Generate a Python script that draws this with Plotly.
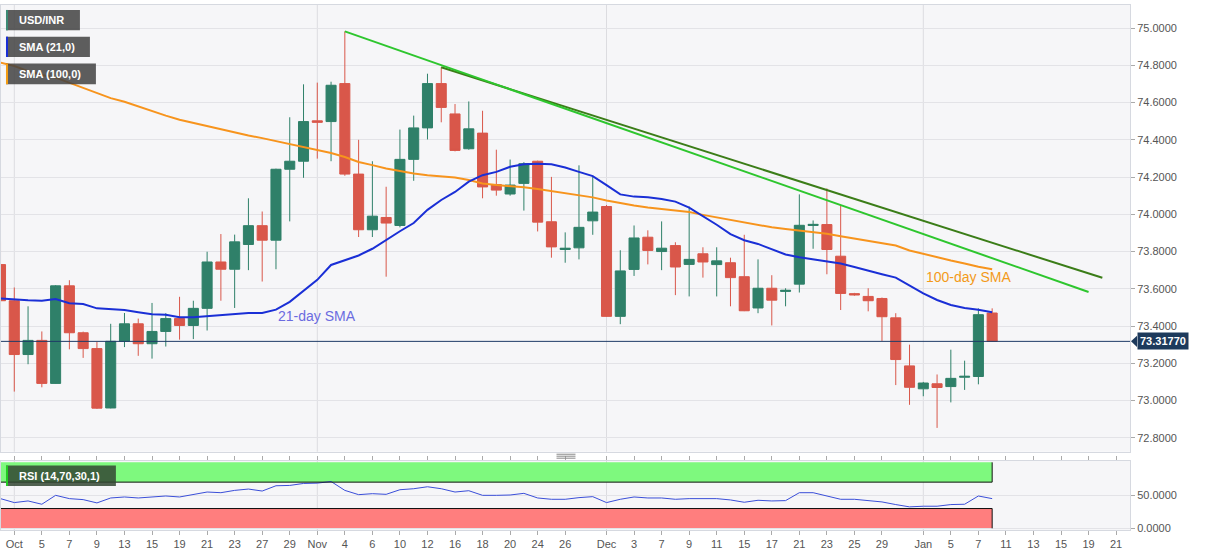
import plotly.graph_objects as go
import pandas as pd

# ---------------- data ----------------
calendar_start = "2020-09-30"
calendar_end = "2021-01-22"   # axis extends into future trading days

open_ = [73.730, 73.536, 73.247, 73.323, 73.092, 73.616, 73.364, 73.279, 72.960, 73.318,
         73.412, 73.305, 73.371, 73.440, 73.403, 73.495, 73.744, 73.705, 73.838, 73.939,
         73.861, 74.242, 74.285, 74.502, 74.498, 74.702, 74.216, 73.917, 73.983, 73.940,
         74.295, 74.464, 74.702, 74.539, 74.352, 74.436, 74.160, 74.109, 74.166, 74.285,
         73.960, 73.811, 73.820, 73.965, 74.042, 73.452, 73.704, 73.877, 73.800, 73.832,
         73.731, 73.788, 73.730, 73.740, 73.665, 73.497, 73.603, 73.586, 73.625, 73.940,
         73.945, 73.775, 73.574, 73.559, 73.548, 73.444, 73.186, 73.063, 73.090, 73.075,
         73.125, 73.129, 73.470]
high = [73.855, 73.607, 73.506, 73.371, 73.620, 73.646, 73.370, 73.314, 73.412, 73.470,
        73.440, 73.524, 73.469, 73.557, 73.536, 73.799, 73.894, 73.891, 74.086, 74.015,
        74.245, 74.521, 74.698, 74.707, 74.712, 74.982, 74.400, 74.285, 74.148, 74.455,
        74.530, 74.755, 74.790, 74.592, 74.606, 74.556, 74.347, 74.294, 74.280, 74.288,
        74.201, 73.903, 74.263, 74.200, 74.050, 73.807, 73.940, 73.914, 73.962, 73.850,
        74.042, 73.823, 73.823, 73.767, 73.890, 73.758, 73.673, 73.603, 74.107, 73.967,
        74.139, 74.045, 73.578, 73.603, 73.553, 73.469, 73.300, 73.100, 73.140, 73.273,
        73.214, 73.495, 73.495]
low = [73.520, 73.048, 73.195, 73.071, 73.090, 73.275, 73.229, 72.955, 72.958, 73.287,
       73.240, 73.225, 73.290, 73.327, 73.330, 73.376, 73.536, 73.497, 73.700, 73.639,
       73.705, 73.962, 74.196, 74.299, 74.285, 74.207, 73.878, 73.878, 73.665, 73.930,
       74.180, 74.402, 74.494, 74.338, 74.347, 74.086, 74.100, 74.100, 74.020, 73.908,
       73.767, 73.740, 73.758, 73.890, 73.450, 73.410, 73.669, 73.731, 73.700, 73.566,
       73.559, 73.660, 73.559, 73.506, 73.480, 73.469, 73.403, 73.506, 73.580, 73.815,
       73.678, 73.486, 73.563, 73.479, 73.320, 73.083, 72.977, 73.023, 72.853, 72.990,
       73.057, 73.087, 73.315]
close = [73.536, 73.247, 73.323, 73.092, 73.616, 73.364, 73.279, 72.959, 73.318, 73.412,
         73.305, 73.371, 73.440, 73.403, 73.495, 73.744, 73.705, 73.852, 73.939, 73.861,
         74.242, 74.285, 74.498, 74.494, 74.693, 74.216, 73.917, 73.990, 73.953, 74.295,
         74.464, 74.702, 74.574, 74.343, 74.459, 74.147, 74.130, 74.157, 74.272, 73.958,
         73.825, 73.818, 73.930, 74.012, 73.452, 73.696, 73.873, 73.806, 73.818, 73.717,
         73.758, 73.744, 73.750, 73.660, 73.482, 73.603, 73.539, 73.592, 73.941, 73.946,
         73.811, 73.575, 73.567, 73.536, 73.450, 73.220, 73.071, 73.094, 73.070, 73.119,
         73.130, 73.461, 73.3177]

sma21 = [73.548, 73.542, 73.538, 73.536, 73.545, 73.522, 73.518, 73.495, 73.490, 73.486,
         73.474, 73.463, 73.460, 73.447, 73.447, 73.452, 73.460, 73.465, 73.470, 73.470,
         73.488, 73.530, 73.589, 73.648, 73.728, 73.754, 73.779, 73.815, 73.864, 73.909,
         73.953, 74.024, 74.077, 74.120, 74.175, 74.210, 74.228, 74.255, 74.269, 74.272,
         74.269, 74.251, 74.228, 74.205, 74.157, 74.107, 74.095, 74.091, 74.082, 74.068,
         74.036, 73.992, 73.944, 73.894, 73.861, 73.841, 73.811, 73.784, 73.770, 73.758,
         73.749, 73.736, 73.717, 73.696, 73.678, 73.660, 73.616, 73.575, 73.540, 73.513,
         73.497, 73.488, 73.474]
sma100 = [74.814, 74.796, 74.769, 74.748, 74.734, 74.707, 74.680, 74.649, 74.624, 74.604,
          74.579, 74.553, 74.530, 74.508, 74.491, 74.473, 74.455, 74.437, 74.423, 74.409,
          74.393, 74.379, 74.361, 74.347, 74.329, 74.308, 74.281, 74.264, 74.246, 74.233,
          74.219, 74.210, 74.205, 74.198, 74.184, 74.166, 74.157, 74.153, 74.145, 74.136,
          74.125, 74.116, 74.104, 74.091, 74.074, 74.059, 74.047, 74.036, 74.029, 74.020,
          74.012, 73.997, 73.983, 73.971, 73.958, 73.944, 73.930, 73.921, 73.912, 73.905,
          73.896, 73.882, 73.870, 73.855, 73.847, 73.832, 73.806, 73.788, 73.767, 73.752,
          73.736, 73.718, 73.705]
rsi = [45.0, 39.0, 41.5, 36.5, 50.0, 45.0, 43.5, 38.5, 46.0, 47.5,
       46.0, 47.5, 49.0, 47.5, 51.0, 55.0, 54.0, 57.5, 59.5, 56.5,
       64.5, 65.0, 68.0, 68.5, 71.0, 57.5, 51.0, 52.5, 51.5, 58.5,
       60.0, 63.0, 60.0, 55.0, 57.0, 50.0, 50.0, 50.5, 53.0, 46.0,
       44.0, 44.0, 46.5, 48.0, 39.0, 44.0, 47.5, 46.0, 46.0, 44.0,
       45.0, 45.0, 45.0, 43.0, 39.5, 42.5, 41.5, 42.0, 54.0, 54.0,
       48.5, 44.0, 44.0, 42.5, 40.0, 36.0, 32.5, 33.5, 33.5, 36.0,
       36.5, 49.0, 45.0]

tick_dates = ["2020-10-01", "2020-10-05", "2020-10-07", "2020-10-09", "2020-10-13", "2020-10-15",
              "2020-10-19", "2020-10-21", "2020-10-23", "2020-10-27", "2020-10-29", "2020-11-02",
              "2020-11-04", "2020-11-06", "2020-11-10", "2020-11-12", "2020-11-16", "2020-11-18",
              "2020-11-20", "2020-11-24", "2020-11-26", "2020-12-01", "2020-12-03", "2020-12-07",
              "2020-12-09", "2020-12-11", "2020-12-15", "2020-12-17", "2020-12-21", "2020-12-23",
              "2020-12-25", "2020-12-29", "2021-01-01", "2021-01-05", "2021-01-07", "2021-01-11",
              "2021-01-13", "2021-01-15", "2021-01-19", "2021-01-21"]
tick_labels = ["Oct", "5", "7", "9", "13", "15", "19", "21", "23", "27", "29", "Nov",
               "4", "6", "10", "12", "16", "18", "20", "24", "26", "Dec", "3", "7",
               "9", "11", "15", "17", "21", "23", "25", "29", "Jan", "5", "7", "11",
               "13", "15", "19", "21"]
month_starts = ["2020-10-01", "2020-11-02", "2020-12-01", "2021-01-01"]

# trend lines (anchor dates and values)
trend1_dates = ["2020-11-04", "2021-01-19"]
trend1_vals = [74.982, 73.583]
trend2_dates = ["2020-11-13", "2021-01-20"]
trend2_vals = [74.790, 73.659]

price_ticks = [72.8, 73.0, 73.2, 73.4, 73.6, 73.8, 74.0, 74.2, 74.4, 74.6, 74.8, 75.0]
rsi_ticks = [0, 50]
rsi_upper, rsi_lower = 70, 30

# ---------------- helpers ----------------
cal = pd.bdate_range(calendar_start, calendar_end)
pos = {d.strftime("%Y-%m-%d"): i for i, d in enumerate(cal)}
n = len(close)
xi = list(range(n))

UP = "#2f8069"
DOWN = "#d9574a"
FONT = "Liberation Sans, Arial, sans-serif"

W, H = 1207, 555
ML, MR, MT, MB = 0, 77, 0, 25
PW, PH = W - ML - MR, H - MT - MB


def px(xp):
    return xp / PW


def py(yp):
    return (PH - yp) / PH


fig = go.Figure()

fig.add_trace(go.Candlestick(
    x=xi, open=open_, high=high, low=low, close=close,
    increasing=dict(line=dict(color=UP, width=1), fillcolor=UP),
    decreasing=dict(line=dict(color=DOWN, width=1), fillcolor=DOWN),
    whiskerwidth=0, showlegend=False, hoverinfo="skip", xaxis="x", yaxis="y"))

fig.add_trace(go.Scatter(x=xi, y=sma100, mode="lines", line=dict(color="#f7941d", width=2),
                         showlegend=False, hoverinfo="skip", xaxis="x", yaxis="y"))
fig.add_trace(go.Scatter(x=xi, y=sma21, mode="lines", line=dict(color="#1a2fd6", width=2),
                         showlegend=False, hoverinfo="skip", xaxis="x", yaxis="y"))

fig.add_trace(go.Scatter(x=[pos[d] for d in trend2_dates], y=trend2_vals, mode="lines",
                         line=dict(color="#3b7d18", width=2), showlegend=False,
                         hoverinfo="skip", xaxis="x", yaxis="y"))
fig.add_trace(go.Scatter(x=[pos[d] for d in trend1_dates], y=trend1_vals, mode="lines",
                         line=dict(color="#2ec62e", width=2), showlegend=False,
                         hoverinfo="skip", xaxis="x", yaxis="y"))

fig.add_trace(go.Scatter(x=xi, y=rsi, mode="lines", line=dict(color="#3a4ed8", width=1),
                         showlegend=False, hoverinfo="skip", xaxis="x", yaxis="y2"))

shapes = []
# month grid lines
for d in month_starts:
    for yr in ("y domain", "y2 domain"):
        shapes.append(dict(type="line", xref="x", yref=yr, x0=pos[d], x1=pos[d], y0=0, y1=1,
                           line=dict(color="#dcdce0", width=1), layer="below"))

# RSI bands
shapes.append(dict(type="rect", xref="x", yref="y2", x0=-0.5, x1=n - 1, y0=rsi_upper, y1=100,
                   fillcolor="#7ef97e", line=dict(width=0), layer="below"))
shapes.append(dict(type="rect", xref="x", yref="y2", x0=-0.5, x1=n - 1, y0=0, y1=rsi_lower,
                   fillcolor="#ff7e7e", line=dict(width=0), layer="below"))
for yv in (rsi_upper, rsi_lower):
    shapes.append(dict(type="line", xref="x", yref="y2", x0=-0.5, x1=n - 1, y0=yv, y1=yv,
                       line=dict(color="#111", width=1)))
shapes.append(dict(type="line", xref="x", yref="y2", x0=n - 1, x1=n - 1, y0=rsi_upper, y1=100,
                   line=dict(color="#111", width=1)))
shapes.append(dict(type="line", xref="x", yref="y2", x0=n - 1, x1=n - 1, y0=0, y1=rsi_lower,
                   line=dict(color="#111", width=1)))

# last price line + pointer
last = close[-1]
shapes.append(dict(type="line", xref="x domain", yref="y", x0=0, x1=1, y0=last, y1=last,
                   line=dict(color="#1d3a66", width=1)))
shapes.append(dict(type="path", xref="paper", yref="y",
                   path=f"M {px(1131)} {last} L {px(1137)} {last + 0.03} L {px(1137)} {last - 0.03} Z",
                   fillcolor="#1d3a5c", line=dict(width=0)))

# label boxes top-left
boxes = [("USD/INR", 5, 79, 5, 25.5, "#3b8a74"),
         ("SMA (21,0)", 5, 89, 32, 52.5, "#1a2fd6"),
         ("SMA (100,0)", 5, 95, 59, 80, "#f39c12")]
annotations = []
for txt, x0, x1, y0, y1, sc in boxes:
    shapes.append(dict(type="rect", xref="paper", yref="paper", x0=px(x0), x1=px(x1),
                       y0=py(y1), y1=py(y0), fillcolor="rgba(66,66,66,0.85)",
                       line=dict(width=0), layer="above"))
    shapes.append(dict(type="rect", xref="paper", yref="paper", x0=px(x0), x1=px(x0 + 2),
                       y0=py(y1), y1=py(y0), fillcolor=sc, line=dict(width=0), layer="above"))
    annotations.append(dict(text=f"<b>{txt}</b>", xref="paper", yref="paper", x=px(16),
                            y=py((y0 + y1) / 2), xanchor="left", yanchor="middle", showarrow=False,
                            font=dict(family=FONT, size=11, color="white")))

# RSI label
shapes.append(dict(type="rect", xref="paper", yref="paper", x0=px(5), x1=px(115),
                   y0=py(485.5), y1=py(465), fillcolor="rgba(50,70,50,0.85)",
                   line=dict(width=0), layer="above"))
shapes.append(dict(type="rect", xref="paper", yref="paper", x0=px(5), x1=px(7),
                   y0=py(485.5), y1=py(465), fillcolor="#22cc22", line=dict(width=0), layer="above"))
annotations.append(dict(text="<b>RSI (14,70,30,1)</b>", xref="paper", yref="paper", x=px(16),
                        y=py(475.5), xanchor="left", yanchor="middle", showarrow=False,
                        font=dict(family=FONT, size=11, color="white")))

# separator handle
for yy in (453.5, 455.5, 457.5):
    shapes.append(dict(type="line", xref="paper", yref="paper", x0=px(556), x1=px(575),
                       y0=py(yy), y1=py(yy), line=dict(color="#888", width=1)))

# price tag
annotations.append(dict(text=f"<b>{last:.5f}</b>", xref="paper", yref="y", x=px(1137), y=last,
                        xanchor="left", yanchor="middle", showarrow=False, bgcolor="#1d3a5c",
                        borderpad=2, font=dict(family=FONT, size=11, color="white")))

# SMA text labels
annotations.append(dict(text="21-day SMA", xref="paper", yref="paper", x=px(275), y=py(314),
                        xanchor="left", yanchor="middle", showarrow=False,
                        font=dict(family=FONT, size=14, color="#6b6be0")))
annotations.append(dict(text="100-day SMA", xref="paper", yref="paper", x=px(924), y=py(275),
                        xanchor="left", yanchor="middle", showarrow=False,
                        font=dict(family=FONT, size=14, color="#f39a1a")))

main_dom = [py(451), 1]
rsi_dom = [0, py(460)]
# price per pixel
ppp = 0.2 / 37.6
y_top = 75.0 + 23.3 * ppp
y_bot = y_top - (451) * ppp
r_scale = 100 / (528.3 - 461.7)
r_bot = -(530 - 528.3) * r_scale
r_top = (528.3 - 460) * r_scale

x_left = 0.485 / 13.785
x_right = (PW + 0.485) / 13.785

fig.update_layout(
    width=W, height=H, margin=dict(l=ML, r=MR, t=MT, b=MB),
    paper_bgcolor="white", plot_bgcolor="#f6f6f8",
    boxgap=0.27, boxgroupgap=0,
    shapes=shapes, annotations=annotations,
    xaxis=dict(range=[x_left, x_right], anchor="y2",
               tickvals=[pos[d] for d in tick_dates], ticktext=tick_labels,
               ticks="outside", ticklen=4, tickcolor="#aaa",
               tickfont=dict(family=FONT, size=11, color="#555"),
               showgrid=False, zeroline=False, showline=True, linecolor="#d6d9e0",
               mirror="all", rangeslider=dict(visible=False)),
    yaxis=dict(domain=main_dom, range=[y_bot, y_top], side="right", tickvals=price_ticks,
               tickformat=".4f", ticks="outside", ticklen=4, tickcolor="#aaa",
               tickfont=dict(family=FONT, size=11, color="#555"),
               gridcolor="#e3e3e7", zeroline=False, showline=True, linecolor="#d6d9e0",
               mirror=True),
    yaxis2=dict(domain=rsi_dom, range=[r_bot, r_top], side="right", tickvals=rsi_ticks,
                tickformat=".4f", ticks="outside", ticklen=4, tickcolor="#aaa",
                tickfont=dict(family=FONT, size=11, color="#555"),
                gridcolor="#e3e3e7", zeroline=False, showline=True, linecolor="#d6d9e0",
                mirror=True, anchor="x"),
)

fig.write_html("out.html", config={"displayModeBar": False},
               post_script="document.body.style.margin='0px';document.body.style.overflow='hidden';")
